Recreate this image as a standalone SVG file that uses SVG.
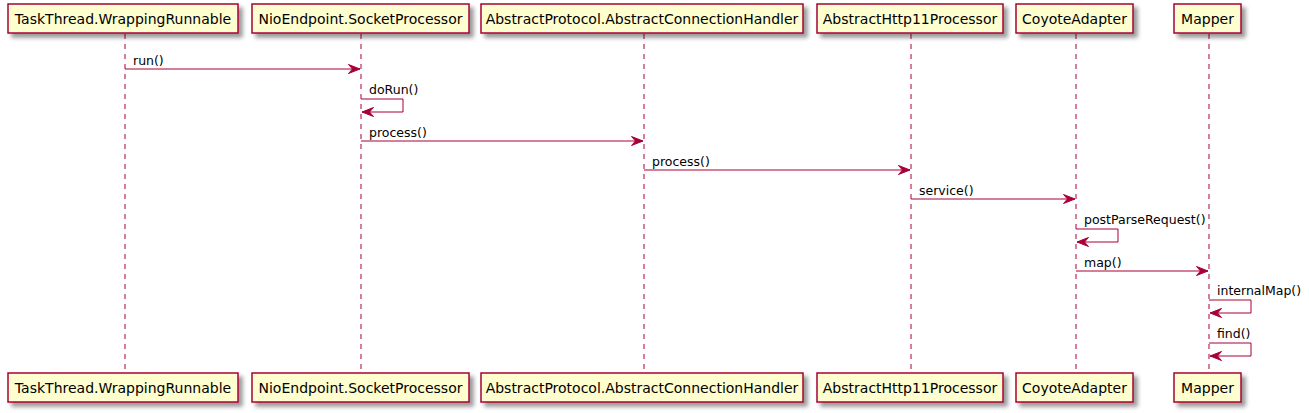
<svg xmlns="http://www.w3.org/2000/svg" width="1309" height="413" viewBox="0 0 1309 413">
<defs>
<filter id="sh" x="-1" y="-1" width="300%" height="300%">
<feGaussianBlur result="b" stdDeviation="2"/>
<feColorMatrix type="matrix" in="b" result="c" values="0 0 0 0 0 0 0 0 0 0 0 0 0 0 0 0 0 0 .4 0"/>
<feOffset result="o" dx="4" dy="4" in="c"/>
<feBlend in="SourceGraphic" in2="o" mode="normal"/>
</filter>
<marker id="ah" viewBox="0 0 14 12" refX="12.5" refY="6" markerWidth="14" markerHeight="12" markerUnits="userSpaceOnUse" orient="auto">
<polygon points="1,1.5 12.5,6 1,10.5 5,6" fill="#A80036" stroke="#A80036" stroke-width="1"/>
</marker>
</defs>
<style>
.box{fill:#FEFECE;stroke:#A80036;stroke-width:1.5;filter:url(#sh)}
.life{stroke:#A80036;stroke-width:1;stroke-dasharray:5,5;fill:none}
.pt{font-family:"DejaVu Sans","Liberation Sans",sans-serif;font-size:14px;fill:#000;text-anchor:middle}
.msg{stroke:#A80036;stroke-width:1;fill:none;marker-end:url(#ah)}
.ml{font-family:"DejaVu Sans","Liberation Sans",sans-serif;font-size:12.5px;fill:#000}
</style>
<rect width="1309" height="413" fill="#fff"/>
<g id="lifelines">
<line class="life" x1="125" y1="34" x2="125" y2="373"/>
<line class="life" x1="361" y1="34" x2="361" y2="373"/>
<line class="life" x1="644" y1="34" x2="644" y2="373"/>
<line class="life" x1="911" y1="34" x2="911" y2="373"/>
<line class="life" x1="1076" y1="34" x2="1076" y2="373"/>
<line class="life" x1="1209" y1="34" x2="1209" y2="373"/>
</g>
<g id="p1">
<rect class="box" x="8" y="4" width="230" height="29"/>
<text class="pt" x="123" y="23.5">TaskThread.WrappingRunnable</text>
<rect class="box" x="8" y="373" width="230" height="29"/>
<text class="pt" x="123" y="392.5">TaskThread.WrappingRunnable</text>
</g>
<g id="p2">
<rect class="box" x="252" y="4" width="217" height="29"/>
<text class="pt" x="360.5" y="23.5">NioEndpoint.SocketProcessor</text>
<rect class="box" x="252" y="373" width="217" height="29"/>
<text class="pt" x="360.5" y="392.5">NioEndpoint.SocketProcessor</text>
</g>
<g id="p3">
<rect class="box" x="481" y="4" width="322" height="29"/>
<text class="pt" x="642" y="23.5">AbstractProtocol.AbstractConnectionHandler</text>
<rect class="box" x="481" y="373" width="322" height="29"/>
<text class="pt" x="642" y="392.5">AbstractProtocol.AbstractConnectionHandler</text>
</g>
<g id="p4">
<rect class="box" x="817" y="4" width="186" height="29"/>
<text class="pt" x="910" y="23.5">AbstractHttp11Processor</text>
<rect class="box" x="817" y="373" width="186" height="29"/>
<text class="pt" x="910" y="392.5">AbstractHttp11Processor</text>
</g>
<g id="p5">
<rect class="box" x="1016" y="4" width="117" height="29"/>
<text class="pt" x="1074.5" y="23.5">CoyoteAdapter</text>
<rect class="box" x="1016" y="373" width="117" height="29"/>
<text class="pt" x="1074.5" y="392.5">CoyoteAdapter</text>
</g>
<g id="p6">
<rect class="box" x="1174" y="4" width="67" height="29"/>
<text class="pt" x="1207.5" y="23.5">Mapper</text>
<rect class="box" x="1174" y="373" width="67" height="29"/>
<text class="pt" x="1207.5" y="392.5">Mapper</text>
</g>
<g id="connectors">
<line class="msg" x1="125" y1="69" x2="360" y2="69"/>
<text class="ml" x="133" y="65">run()</text>
<polyline class="msg" points="361,99 403,99 403,112 362,112"/>
<text class="ml" x="369" y="94">doRun()</text>
<line class="msg" x1="361" y1="141" x2="643" y2="141"/>
<text class="ml" x="369" y="137">process()</text>
<line class="msg" x1="644" y1="170" x2="910" y2="170"/>
<text class="ml" x="652" y="166">process()</text>
<line class="msg" x1="911" y1="199" x2="1075" y2="199"/>
<text class="ml" x="919" y="195">service()</text>
<polyline class="msg" points="1076,229 1118,229 1118,242 1077,242"/>
<text class="ml" x="1084" y="224">postParseRequest()</text>
<line class="msg" x1="1076" y1="271" x2="1208" y2="271"/>
<text class="ml" x="1084" y="267">map()</text>
<polyline class="msg" points="1209,300 1251,300 1251,313 1210,313"/>
<text class="ml" x="1217" y="295">internalMap()</text>
<polyline class="msg" points="1209,343 1251,343 1251,356 1210,356"/>
<text class="ml" x="1217" y="338">find()</text>
</g>
</svg>
